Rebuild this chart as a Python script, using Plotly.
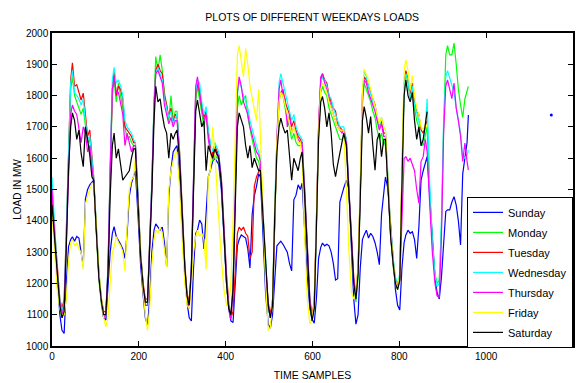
import plotly.graph_objects as go

DAY_LEN = 96
KNOTS = [0, 6, 12, 18, 23, 28, 33, 38, 43, 47, 52, 57, 62, 67, 72, 77, 82, 87, 92]

sunday = [
    [1480, 1350, 1200, 1100, 1050, 1040, 1200, 1317, 1340, 1349, 1335, 1350, 1345, 1297, 1254, 1470, 1500, 1515, 1525],
    [1530, 1380, 1230, 1140, 1090, 1083, 1200, 1300, 1360, 1381, 1350, 1339, 1325, 1310, 1280, 1360, 1477, 1520, 1545],
    [1560, 1420, 1260, 1160, 1090, 1065, 1150, 1300, 1370, 1390, 1380, 1370, 1380, 1330, 1253, 1477, 1563, 1620, 1632],
    [1640, 1530, 1370, 1220, 1140, 1090, 1080, 1250, 1360, 1370, 1402, 1390, 1310, 1420, 1540, 1563, 1590, 1600, 1590],
    [1580, 1500, 1350, 1200, 1120, 1080, 1075, 1200, 1320, 1340, 1355, 1350, 1345, 1310, 1249, 1420, 1480, 1510, 1550],
    [1540, 1350, 1170, 1070, 1057, 1100, 1230, 1320, 1329, 1335, 1325, 1310, 1300, 1264, 1240, 1467, 1482, 1515, 1500],
    [1520, 1380, 1220, 1120, 1085, 1073, 1150, 1280, 1315, 1329, 1320, 1325, 1320, 1300, 1264, 1211, 1215, 1460, 1490],
    [1505, 1530, 1500, 1300, 1150, 1070, 1100, 1250, 1340, 1355, 1370, 1345, 1360, 1350, 1330, 1300, 1260, 1420, 1480],
    [1540, 1500, 1380, 1260, 1180, 1130, 1115, 1250, 1330, 1355, 1370, 1360, 1365, 1340, 1280, 1380, 1530, 1560, 1590],
    [1605, 1480, 1330, 1220, 1170, 1150, 1221, 1330, 1430, 1435, 1435, 1460, 1477, 1450, 1400, 1323, 1550, 1600, 1650],
]
sunday_end = (959, 1738)
sunday_dot = (1150, 1738)

monday = [
    [1450, 1340, 1200, 1120, 1090, 1110, 1340, 1620, 1820, 1860, 1800, 1780, 1760, 1740, 1760, 1700, 1650, 1660, 1580],
    [1530, 1360, 1210, 1130, 1090, 1100, 1240, 1540, 1800, 1850, 1780, 1840, 1800, 1760, 1700, 1660, 1670, 1650, 1640],
    [1640, 1470, 1290, 1190, 1140, 1140, 1320, 1520, 1780, 1925, 1880, 1930, 1880, 1810, 1770, 1720, 1800, 1720, 1750],
    [1750, 1610, 1400, 1250, 1160, 1130, 1240, 1540, 1780, 1830, 1790, 1740, 1700, 1740, 1670, 1620, 1590, 1610, 1600],
    [1600, 1520, 1350, 1200, 1120, 1100, 1200, 1500, 1760, 1800, 1770, 1790, 1800, 1730, 1690, 1660, 1630, 1600, 1590],
    [1560, 1400, 1230, 1120, 1090, 1130, 1420, 1640, 1780, 1810, 1800, 1760, 1720, 1700, 1660, 1680, 1650, 1640, 1640],
    [1640, 1480, 1280, 1130, 1090, 1120, 1380, 1680, 1810, 1830, 1810, 1800, 1760, 1740, 1720, 1700, 1680, 1660, 1660],
    [1670, 1640, 1480, 1310, 1200, 1140, 1220, 1480, 1770, 1840, 1820, 1800, 1780, 1750, 1730, 1690, 1660, 1680, 1640],
    [1660, 1520, 1350, 1250, 1200, 1180, 1210, 1530, 1820, 1870, 1840, 1790, 1820, 1760, 1720, 1700, 1650, 1640, 1680],
    [1700, 1480, 1330, 1230, 1200, 1210, 1380, 1700, 1930, 1960, 1930, 1930, 1968, 1900, 1820, 1770, 1730, 1790, 1820],
]
monday_end = (959, 1829)

tuesday = [
    [1480, 1370, 1230, 1150, 1120, 1150, 1370, 1640, 1850, 1905, 1830, 1835, 1810, 1786, 1808, 1740, 1670, 1690, 1620],
    [1540, 1380, 1230, 1150, 1110, 1110, 1250, 1560, 1820, 1880, 1800, 1830, 1820, 1790, 1700, 1690, 1680, 1670, 1650],
    [1650, 1480, 1300, 1200, 1150, 1150, 1330, 1520, 1760, 1880, 1900, 1880, 1870, 1800, 1770, 1730, 1760, 1710, 1740],
    [1730, 1620, 1420, 1260, 1170, 1140, 1250, 1550, 1800, 1840, 1810, 1760, 1730, 1750, 1680, 1640, 1610, 1640, 1620],
    [1610, 1540, 1380, 1230, 1140, 1090, 1110, 1240, 1360, 1380, 1370, 1380, 1360, 1350, 1280, 1300, 1510, 1540, 1560],
    [1570, 1420, 1250, 1140, 1100, 1150, 1450, 1650, 1790, 1810, 1820, 1780, 1760, 1740, 1700, 1720, 1690, 1670, 1660],
    [1650, 1500, 1300, 1150, 1100, 1140, 1400, 1700, 1850, 1870, 1850, 1840, 1800, 1780, 1760, 1750, 1710, 1700, 1690],
    [1690, 1660, 1500, 1330, 1220, 1160, 1250, 1500, 1800, 1860, 1850, 1830, 1810, 1790, 1770, 1730, 1700, 1720, 1680],
    [1680, 1530, 1360, 1270, 1210, 1190, 1220, 1550, 1840, 1880, 1850, 1800, 1840, 1780, 1750, 1740, 1690, 1680, 1700],
]
tuesday_end = (864, 1720)

wednesday = [
    [1540, 1400, 1240, 1150, 1110, 1140, 1360, 1640, 1840, 1880, 1810, 1800, 1790, 1770, 1790, 1720, 1660, 1670, 1590],
    [1540, 1390, 1240, 1140, 1100, 1100, 1260, 1580, 1850, 1890, 1840, 1850, 1830, 1800, 1720, 1700, 1690, 1680, 1660],
    [1650, 1490, 1300, 1190, 1130, 1130, 1320, 1530, 1770, 1870, 1890, 1870, 1850, 1790, 1760, 1730, 1750, 1710, 1730],
    [1740, 1610, 1410, 1250, 1160, 1130, 1260, 1560, 1810, 1850, 1840, 1780, 1740, 1765, 1690, 1650, 1620, 1650, 1630],
    [1620, 1530, 1360, 1210, 1120, 1090, 1190, 1500, 1800, 1850, 1820, 1800, 1780, 1760, 1720, 1690, 1660, 1640, 1620],
    [1600, 1430, 1260, 1130, 1090, 1130, 1460, 1680, 1840, 1870, 1840, 1800, 1780, 1750, 1720, 1740, 1700, 1680, 1670],
    [1660, 1500, 1290, 1140, 1080, 1120, 1390, 1690, 1840, 1860, 1850, 1830, 1800, 1790, 1760, 1740, 1720, 1700, 1700],
    [1700, 1660, 1490, 1320, 1200, 1150, 1240, 1500, 1810, 1880, 1860, 1830, 1800, 1780, 1770, 1720, 1700, 1730, 1700],
    [1690, 1540, 1370, 1280, 1220, 1200, 1230, 1540, 1830, 1870, 1850, 1790, 1830, 1770, 1740, 1720, 1640, 1660, 1700],
    [1790, 1520, 1330, 1230, 1190, 1200, 1400, 1720, 1860, 1880, 1855, 1830, 1810, 1760, 1720, 1680, 1600, 1600, 1610],
]
wednesday_end = (959, 1626)

thursday = [
    [1500, 1360, 1220, 1140, 1100, 1130, 1340, 1600, 1740, 1770, 1750, 1740, 1700, 1650, 1700, 1680, 1620, 1640, 1570],
    [1530, 1370, 1220, 1140, 1090, 1100, 1240, 1560, 1820, 1860, 1810, 1810, 1780, 1740, 1640, 1680, 1650, 1620, 1640],
    [1640, 1470, 1290, 1180, 1130, 1130, 1310, 1510, 1760, 1870, 1880, 1860, 1840, 1770, 1740, 1710, 1730, 1700, 1720],
    [1720, 1600, 1400, 1240, 1150, 1120, 1250, 1570, 1830, 1860, 1800, 1760, 1720, 1740, 1660, 1620, 1600, 1630, 1610],
    [1610, 1530, 1360, 1210, 1120, 1085, 1180, 1500, 1810, 1860, 1830, 1780, 1760, 1740, 1700, 1670, 1640, 1620, 1610],
    [1590, 1420, 1250, 1130, 1090, 1130, 1450, 1670, 1820, 1850, 1800, 1790, 1700, 1740, 1680, 1700, 1680, 1660, 1650],
    [1650, 1490, 1290, 1140, 1090, 1130, 1400, 1700, 1860, 1870, 1840, 1820, 1790, 1760, 1740, 1720, 1700, 1690, 1680],
    [1690, 1650, 1490, 1320, 1210, 1160, 1250, 1490, 1790, 1850, 1840, 1810, 1790, 1770, 1750, 1720, 1690, 1710, 1670],
    [1670, 1520, 1350, 1260, 1210, 1190, 1210, 1400, 1600, 1605, 1590, 1600, 1580, 1560, 1500, 1456, 1590, 1605, 1660],
    [1620, 1450, 1300, 1200, 1160, 1155, 1350, 1680, 1830, 1850, 1818, 1790, 1840, 1760, 1720, 1670, 1590, 1648, 1590],
]
thursday_end = (959, 1562)

friday = [
    [1420, 1300, 1180, 1120, 1100, 1100, 1150, 1270, 1330, 1340, 1320, 1330, 1310, 1300, 1244, 1455, 1480, 1500, 1520],
    [1520, 1390, 1240, 1150, 1090, 1062, 1090, 1200, 1300, 1317, 1349, 1330, 1320, 1300, 1240, 1380, 1500, 1530, 1540],
    [1600, 1450, 1280, 1170, 1100, 1050, 1120, 1260, 1340, 1370, 1360, 1380, 1360, 1300, 1253, 1500, 1560, 1590, 1616],
    [1620, 1500, 1330, 1200, 1130, 1120, 1200, 1300, 1350, 1370, 1350, 1360, 1340, 1244, 1540, 1563, 1700, 1620, 1500],
    [1400, 1280, 1180, 1130, 1130, 1200, 1400, 1700, 1930, 1960, 1900, 1860, 1950, 1900, 1830, 1790, 1750, 1720, 1820],
    [1690, 1450, 1200, 1050, 1060, 1150, 1420, 1650, 1780, 1810, 1800, 1770, 1730, 1710, 1680, 1700, 1670, 1650, 1650],
    [1600, 1350, 1150, 1070, 1090, 1140, 1380, 1680, 1820, 1840, 1830, 1810, 1780, 1760, 1740, 1720, 1700, 1690, 1690],
    [1690, 1500, 1300, 1170, 1150, 1170, 1260, 1520, 1820, 1885, 1870, 1850, 1820, 1790, 1770, 1740, 1710, 1730, 1700],
    [1690, 1540, 1370, 1270, 1210, 1180, 1230, 1580, 1880, 1915, 1880, 1820, 1865, 1800, 1760, 1740, 1700, 1690, 1710],
]
friday_end = (864, 1700)

saturday = [
    [1450, 1340, 1210, 1130, 1090, 1110, 1320, 1560, 1700, 1745, 1720, 1660, 1690, 1616, 1573, 1700, 1660, 1610, 1540],
    [1530, 1370, 1220, 1140, 1100, 1100, 1230, 1480, 1640, 1680, 1600, 1630, 1580, 1530, 1540, 1550, 1560, 1600, 1630],
    [1630, 1470, 1290, 1190, 1140, 1140, 1300, 1490, 1720, 1830, 1780, 1790, 1740, 1700, 1680, 1600, 1680, 1660, 1680],
    [1690, 1590, 1400, 1250, 1160, 1130, 1240, 1530, 1750, 1786, 1735, 1700, 1720, 1560, 1640, 1620, 1600, 1630, 1610],
    [1600, 1520, 1350, 1200, 1120, 1100, 1180, 1470, 1700, 1745, 1720, 1700, 1640, 1600, 1640, 1570, 1600, 1580, 1560],
    [1560, 1410, 1240, 1130, 1090, 1130, 1420, 1620, 1700, 1728, 1700, 1680, 1690, 1600, 1530, 1600, 1580, 1560, 1600],
    [1620, 1480, 1280, 1130, 1080, 1120, 1380, 1660, 1780, 1797, 1760, 1700, 1745, 1680, 1580, 1541, 1580, 1620, 1660],
    [1680, 1640, 1480, 1320, 1200, 1150, 1230, 1470, 1720, 1765, 1730, 1680, 1733, 1640, 1562, 1660, 1680, 1605, 1660],
    [1660, 1520, 1350, 1260, 1200, 1180, 1210, 1520, 1800, 1850, 1800, 1780, 1810, 1720, 1660, 1700, 1640, 1660, 1720],
]
saturday_end = (864, 1749)

SERIES = [
    ("Sunday", sunday, sunday_end, "#0000FF"),
    ("Monday", monday, monday_end, "#00FF00"),
    ("Tuesday", tuesday, tuesday_end, "#FF0000"),
    ("Wednesday", wednesday, wednesday_end, "#00FFFF"),
    ("Thursday", thursday, thursday_end, "#FF00FF"),
    ("Friday", friday, friday_end, "#FFFF00"),
    ("Saturday", saturday, saturday_end, "#000000"),
]

fig = go.Figure()
for i, (name, days, end, color) in enumerate(SERIES):
    xs, ys = [], []
    for d, row in enumerate(days):
        for t, v in zip(KNOTS, row):
            xs.append(d * DAY_LEN + t)
            ys.append(v)
    xs.append(end[0])
    ys.append(end[1])
    fig.add_trace(go.Scatter(x=xs, y=ys, mode="lines", name=name,
                             legendgroup=name,
                             line=dict(color=color, width=1.2)))

fig.add_trace(go.Scatter(x=[sunday_dot[0]], y=[sunday_dot[1]], mode="markers",
                         marker=dict(color="#0000FF", size=3), showlegend=False))

font = "Liberation Sans, Arial, sans-serif"
axis_common = dict(showgrid=False, zeroline=False, showline=True, linecolor="black",
                   linewidth=1.5, mirror="ticks", ticks="inside", ticklen=5,
                   tickcolor="black", automargin=False,
                   tickfont=dict(family=font, size=10, color="black"))

# the page body adds an 8px offset, so the figure is 8px smaller than the window
fig.update_layout(
    width=575, height=375,
    margin=dict(l=44, r=10, t=25, b=37, autoexpand=False),
    paper_bgcolor="white", plot_bgcolor="white",
    title=dict(text="PLOTS OF DIFFERENT WEEKDAYS LOADS", x=0.529, xanchor="center",
               y=0.976, yanchor="middle", font=dict(family=font, size=10.5, color="black")),
    xaxis=dict(range=[0, 1200], tickvals=[0, 200, 400, 600, 800, 1000, 1200],
               title=dict(text="TIME SAMPLES", font=dict(family=font, size=10.5, color="black"), standoff=11),
               **axis_common),
    yaxis=dict(range=[1000, 2000], tickvals=list(range(1000, 2001, 100)),
               title=dict(text="LOAD IN MW", font=dict(family=font, size=10, color="black"), standoff=3),
               **axis_common),
    legend=dict(x=1, xanchor="right", y=-0.006, yanchor="bottom",
                bgcolor="white", bordercolor="black", borderwidth=1,
                font=dict(family=font, size=11, color="black"),
                tracegroupgap=1),
    showlegend=True,
)

fig.write_html("out.html")
